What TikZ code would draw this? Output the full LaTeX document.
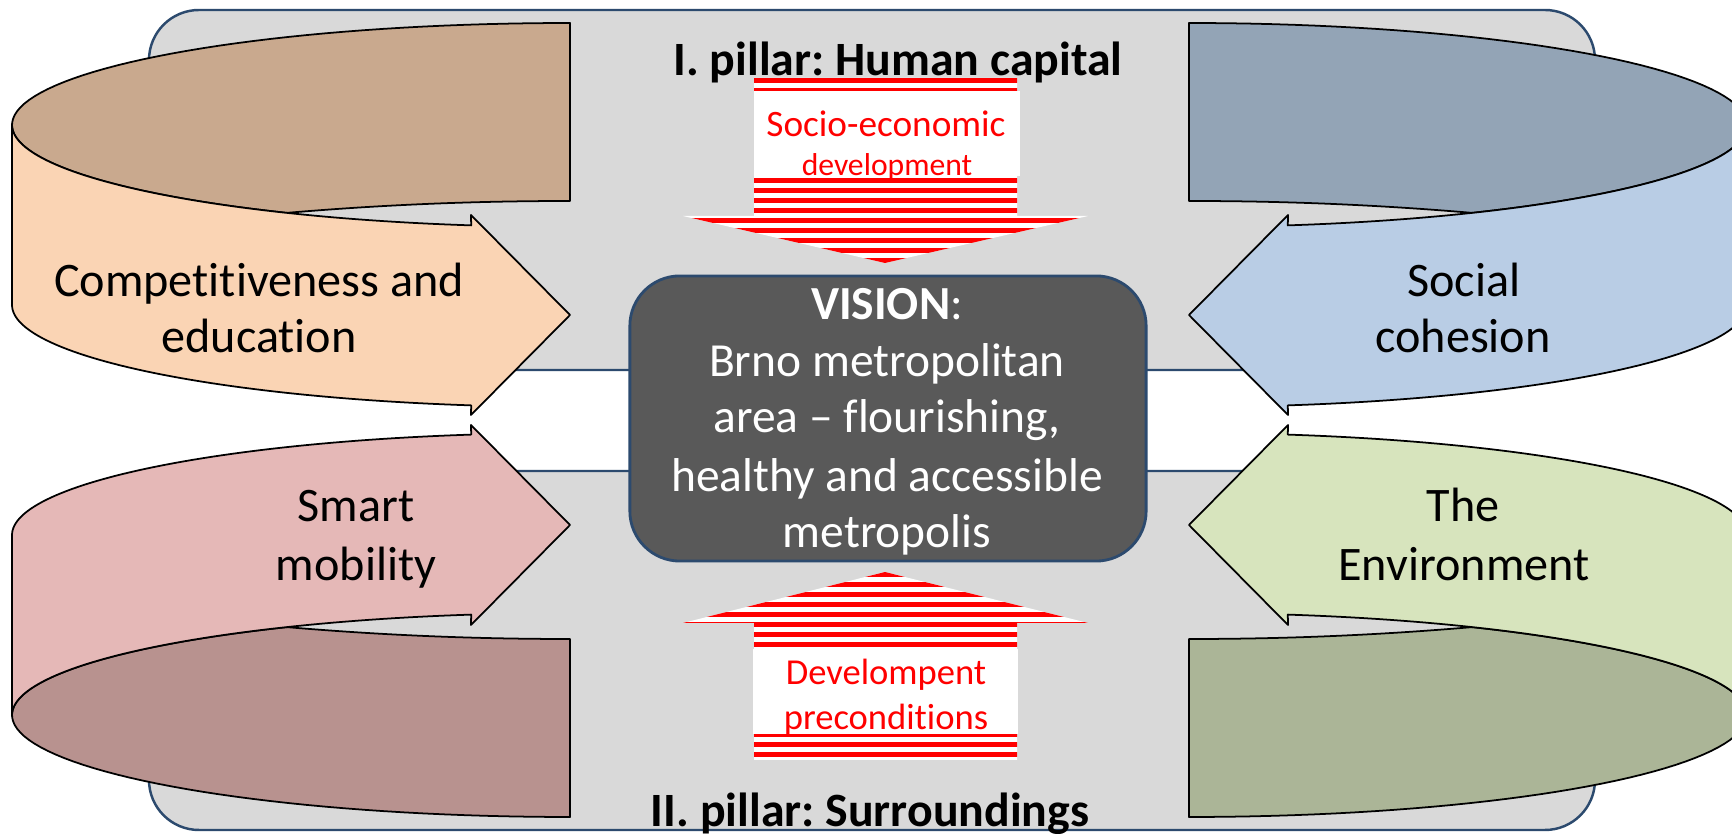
\documentclass[tikz,border=0pt]{standalone}
\usepackage{fontspec}
\setmainfont{Carlito}[Ligatures=NoCommon]
\frenchspacing
\definecolor{panelgray}{HTML}{D9D9D9}
\definecolor{panelblue}{HTML}{2C4A6E}
\definecolor{visgray}{HTML}{595959}
\definecolor{peachF}{HTML}{FAD4B4}
\definecolor{peachB}{HTML}{C9A98E}
\definecolor{blueF}{HTML}{B9CDE5}
\definecolor{blueB}{HTML}{93A4B6}
\definecolor{pinkF}{HTML}{E5B8B7}
\definecolor{pinkB}{HTML}{B8928F}
\definecolor{greenF}{HTML}{D7E4BD}
\definecolor{greenB}{HTML}{ABB597}
\newcommand{\drawribbon}[2]{%
  \path[rib, fill=#1] plot[domain=270:120.5, samples=70, variable=\t]
    ({570+558*cos(\t)},{125+102*sin(\t)})
    .. controls (380,205) and (470,201) .. (570,201) -- cycle;
  \path[rib, fill=#2] (12,125) -- (12,305)
    -- plot[domain=180:100.2, samples=60, variable=\t] ({570+558*cos(\t)},{305+102*sin(\t)})
    -- (471,415) -- (570,315) -- (471,215)
    -- plot[domain=100.2:180, samples=60, variable=\t] ({570+558*cos(\t)},{125+102*sin(\t)})
    -- cycle;
}
\begin{document}
\begin{tikzpicture}[x=0.01cm,y=-0.01cm,
  panel/.style={fill=panelgray, draw=panelblue, line width=0.7pt, rounded corners=0.5cm},
  rib/.style={draw=black, line width=0.5pt, line join=round},
  big/.style={font=\fontsize{13.7}{16}\selectfont, anchor=base, inner sep=0pt},
  title/.style={font=\bfseries\fontsize{13.6}{16}\selectfont, anchor=base, inner sep=0pt},
  vistext/.style={font=\fontsize{13.5}{16}\selectfont, anchor=base, inner sep=0pt, text=white},
  redtext/.style={anchor=base, inner sep=0pt, text=red},
  visionbox/.style={fill=visgray, draw=panelblue, line width=0.8pt, rounded corners=0.5cm,
    minimum width=5.16cm, minimum height=2.85cm, inner sep=0pt}]
\clip (0,0) rectangle (1732,834);
\fill[white] (0,0) rectangle (1732,834);
% panels
\path[panel] (149,10) rectangle (1595,370);
\path[panel] (149,471) rectangle (1595,830);
% ribbons
\drawribbon{peachB}{peachF}
\begin{scope}[shift={(1759,0)}, xscale=-1]
  \drawribbon{blueB}{blueF}
\end{scope}
\begin{scope}[shift={(0,840)}, yscale=-1]
  \drawribbon{pinkB}{pinkF}
\end{scope}
\begin{scope}[shift={(1759,840)}, xscale=-1, yscale=-1]
  \drawribbon{greenB}{greenF}
\end{scope}
% ribbon texts
\node[big] (c1) at (259,297) {Competitiveness and};
\node[big] (c2) at (259,353) {education};
\node[big] (s1) at (1464,297) {Social};
\node[big] (s2) at (1463,353) {cohesion};
\node[big] (m1) at (356,522) {Smart};
\node[big] (m2) at (356,581) {mobility};
\node[big] (e1) at (1463,522) {The};
\node[big] (e2) at (1464,581) {Environment};
% vision
\node[visionbox] (vis) at (888,418.5) {};
\node[vistext] (v1) at (887,320) {\textbf{VISION}:};
\node[vistext] (v2) at (887,377) {Brno metropolitan};
\node[vistext] (v3) at (887,433) {area -- flourishing,};
\node[vistext] (v4) at (887,492) {healthy and accessible};
\node[vistext] (v5) at (887,548) {metropolis};
% top striped arrow
\begin{scope}
  \path[clip] (754,78) -- (1017,78) -- (1017,216) -- (1088,216) -- (885,263) -- (683,216) -- (754,216) -- cycle;
  \fill[white] (600,60) rectangle (1100,280);
  \foreach \s in {78,88,...,268} \fill[red] (600,\s) rectangle (1100,\s+5.5);
\end{scope}
\fill[white] (754,91) rectangle (1020,176);
\node[redtext, font=\fontsize{10.6}{12}\selectfont] (se1) at (886,137) {Socio-economic};
\node[redtext, font=\fontsize{9}{11}\selectfont] (se2) at (887,176) {development};
% bottom striped arrow
\begin{scope}
  \path[clip] (754,760) -- (1017,760) -- (1017,623) -- (1088,623) -- (885,572) -- (683,623) -- (754,623) -- cycle;
  \fill[white] (600,560) rectangle (1100,770);
  \foreach \s in {572,582,...,762} \fill[red] (600,\s) rectangle (1100,\s+5.5);
\end{scope}
\fill[white] (753,649) rectangle (1018,734);
\node[redtext, font=\fontsize{10.4}{12}\selectfont] (dp1) at (886,685) {Develompent};
\node[redtext, font=\fontsize{10.4}{12}\selectfont] (dp2) at (886,730) {preconditions};
% titles
\node[title] (p1) at (898,76) {I. pillar: Human capital};
\node[title] (p2) at (870,827) {II. pillar: Surroundings};
\end{tikzpicture}
\end{document}
